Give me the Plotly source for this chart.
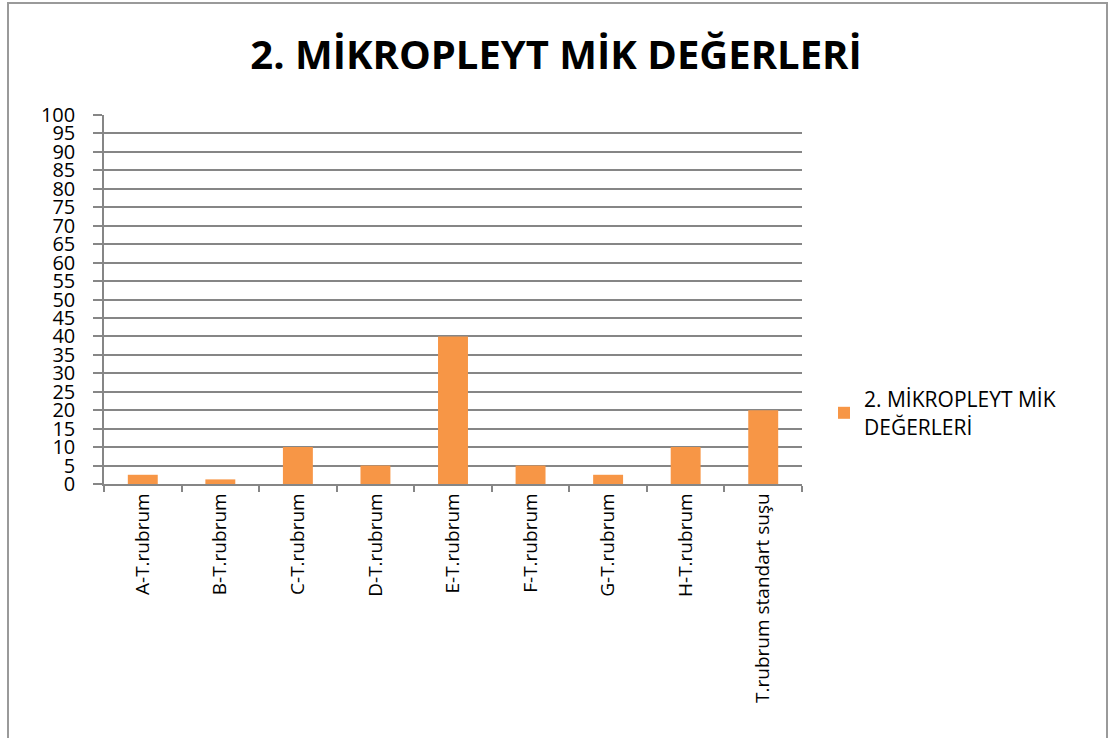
import plotly.graph_objects as go

categories = ["A-T.rubrum", "B-T.rubrum", "C-T.rubrum", "D-T.rubrum", "E-T.rubrum",
              "F-T.rubrum", "G-T.rubrum", "H-T.rubrum", "T.rubrum standart suşu"]
values = [2.5, 1.25, 10, 5, 40, 5, 2.5, 10, 20]
series_name = "2. MİKROPLEYT MİK<br>DEĞERLERİ"
title_text = "2. MİKROPLEYT MİK DEĞERLERİ"
y_ticks = list(range(0, 101, 5))

W, H = 1112, 738
L, R, T, B = 104, 802, 115, 484
pw, ph = R - L, B - T

def px(x):
    return (x - L) / pw

def py(y):
    return (B - y) / ph

fig = go.Figure()
fig.add_trace(go.Bar(x=categories, y=values, name=series_name,
                     marker=dict(color="#F79646", line=dict(width=0)),
                     showlegend=True))

fig.update_layout(
    width=W, height=H,
    margin=dict(l=L, r=W - R, t=T, b=H - B, autoexpand=False),
    paper_bgcolor="white", plot_bgcolor="white",
    bargap=0.614,
    title=dict(text="<b>" + title_text + "</b>", x=0.5, xanchor="center",
               y=1 - 55 / H, yanchor="middle",
               font=dict(family="Open Sans", size=40, color="black")),
    font=dict(family="Open Sans", color="black"),
    showlegend=True,
    legend=dict(x=px(824), y=py(413), xanchor="left", yanchor="middle",
                font=dict(family="Open Sans", size=21, color="black"),
                bgcolor="rgba(0,0,0,0)", itemsizing="constant"),
    xaxis=dict(type="category", showgrid=False, showline=True, linecolor="#868686",
               linewidth=1.5, ticks="outside", tickson="boundaries", ticklen=6,
               tickcolor="#868686", tickwidth=1.5, tickangle=-90,
               tickfont=dict(family="Open Sans", size=19, color="black")),
    yaxis=dict(range=[0, 100], tickvals=y_ticks, ticktext=[str(v) for v in y_ticks],
               showgrid=True, gridcolor="#868686", gridwidth=1.5,
               showline=True, linecolor="#868686", linewidth=1.5,
               ticks="outside", ticklen=9, tickcolor="#868686", tickwidth=1.5,
               zeroline=False, ticklabelstandoff=14,
               tickfont=dict(family="Open Sans", size=20, color="black")),
    shapes=[dict(type="rect", xref="paper", yref="paper",
                 x0=px(8), x1=px(1107), y0=py(760), y1=py(3),
                 line=dict(color="#9a9a9a", width=2), fillcolor="rgba(0,0,0,0)",
                 layer="below")],
)

fig.write_html("out.html", config={"displayModeBar": False},
               post_script="document.body.style.margin='0';document.body.style.padding='0';")
